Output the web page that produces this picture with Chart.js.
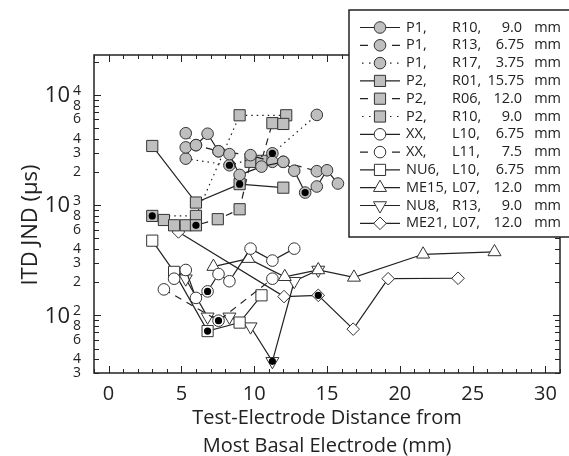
<!DOCTYPE html>
<html>
<head>
<meta charset="utf-8">
<script src="https://cdn.jsdelivr.net/npm/chart.js@4.4.0/dist/chart.umd.min.js"></script>
<style>
  html, body { margin: 0; padding: 0; background: #fff; }
  #wrap { width: 569px; height: 456px; }
</style>
</head>
<body>
<div id="wrap"><canvas id="ChartJnd"></canvas></div>
<script>
// legend columns
var subjects   = ["P1", "P1", "P1", "P2", "P2", "P2", "XX", "XX", "NU6", "ME15", "NU8", "ME21"];
var electrodes = ["R10", "R13", "R17", "R01", "R06", "R10", "L10", "L11", "L10", "L07", "R13", "L07"];
var distances  = ["9.0", "6.75", "3.75", "15.75", "12.0", "9.0", "6.75", "7.5", "6.75", "12.0", "9.0", "12.0"];

// x = test-electrode distance (mm), y = ITD JND (us)
var p1r10X = [5.3, 6.0, 6.8, 7.55, 8.3, 9.0, 10.5, 12.0, 12.75, 13.5, 14.3, 15.0, 15.75];
var p1r10Y = [3340, 3500, 4440, 3080, 2900, 1880, 2235, 2470, 2050, 1300, 1475, 2070, 1570];
var p1r13X = [5.3, 6.0, 7.55, 9.75, 11.25, 12.0, 14.3];
var p1r13Y = [4490, 3500, 3080, 2840, 2470, 2470, 2030];
var p1r17X = [5.3, 8.3, 11.25, 14.3];
var p1r17Y = [2640, 2300, 2950, 6580];
var p2r01X = [3.0, 6.0, 9.0, 12.0];
var p2r01Y = [3440, 1055, 1550, 1440];
var p2r06X = [3.8, 4.5, 5.3, 6.0, 7.5, 9.0, 9.75, 10.5, 11.25, 12.0];
var p2r06Y = [733, 656, 656, 656, 745, 917, 2470, 2520, 5540, 5450];
var p2r10X = [3.0, 6.0, 9.0, 12.2];
var p2r10Y = [798, 798, 6530, 6530];
var xxl10X = [4.5, 5.3, 6.0, 6.8, 7.55, 8.3, 9.75, 11.25, 12.75];
var xxl10Y = [215, 258, 144, 165, 237, 204, 403, 314, 403];
var xxl11X = [3.8, 7.55, 11.25];
var xxl11Y = [172, 89.5, 215];
var nu6X = [3.0, 4.5, 6.8, 9.0, 10.5];
var nu6Y = [476, 248, 72, 86, 152];
var me15X = [7.2, 9.6, 12.1, 14.4, 16.85, 21.6, 26.5];
var me15Y = [277, 327, 224, 258, 221, 358, 376];
var nu8X = [5.3, 6.8, 8.3, 9.75, 11.25, 12.75, 14.4];
var nu8Y = [215, 97, 97, 79, 38.3, 204, 258];
var me21X = [4.8, 12.05, 14.4, 16.8, 19.2, 24.0];
var me21Y = [571, 148, 152, 75, 215, 217];

// reference electrodes (black dots)
var refX = [8.3, 11.25, 13.5, 3.0, 6.0, 9.0, 6.8, 7.55, 6.8, 11.25, 14.4];
var refY = [2300, 2950, 1300, 798, 656, 1550, 165, 89.5, 72, 38.3, 152];

// axis ticks
var xTickLabels = [0, 5, 10, 15, 20, 25, 30];
var yDecades = [100, 1000, 10000];
var yMinorLabels = [30, 40, 60, 80, 200, 300, 400, 600, 800, 2000, 3000, 4000, 6000, 8000];

var GRAY = "#bfbfbf";
var INK = "#222";
var DASH = [7, 6];
var DOT = [1.5, 4];

var seriesX = [p1r10X, p1r13X, p1r17X, p2r01X, p2r06X, p2r10X, xxl10X, xxl11X, nu6X, me15X, nu8X, me21X];
var seriesY = [p1r10Y, p1r13Y, p1r17Y, p2r01Y, p2r06Y, p2r10Y, xxl10Y, xxl11Y, nu6Y, me15Y, nu8Y, me21Y];
var looks = [
    { pt: "circle", r: 5.8, rot: 0, fill: GRAY, dash: [] },
    { pt: "circle", r: 5.8, rot: 0, fill: GRAY, dash: DASH },
    { pt: "circle", r: 5.8, rot: 0, fill: GRAY, dash: DOT },
    { pt: "rect", r: 7.9, rot: 0, fill: GRAY, dash: [] },
    { pt: "rect", r: 7.9, rot: 0, fill: GRAY, dash: DASH },
    { pt: "rect", r: 7.9, rot: 0, fill: GRAY, dash: DOT },
    { pt: "circle", r: 5.8, rot: 0, fill: "#fff", dash: [] },
    { pt: "circle", r: 5.8, rot: 0, fill: "#fff", dash: DASH },
    { pt: "rect", r: 7.9, rot: 0, fill: "#fff", dash: [] },
    { pt: "triangle", r: 7.5, rot: 0, fill: "#fff", dash: [] },
    { pt: "triangle", r: 7.5, rot: 180, fill: "#fff", dash: [] },
    { pt: "rectRot", r: 6.3, rot: 0, fill: "#fff", dash: [] }
];

function pairs(xs, ys) {
    return xs.map(function (x, i) { return { x: x, y: ys[i] }; });
}

var datasets = [{
    label: "ref",
    data: pairs(refX, refY),
    showLine: false,
    pointStyle: "circle",
    pointRadius: 3.6,
    pointBackgroundColor: "#000",
    pointBorderColor: "#000",
    pointBorderWidth: 0,
    order: 0
}];

seriesX.forEach(function (xs, i) {
    var lk = looks[i];
    datasets.push({
        label: subjects[i] + ", " + electrodes[i] + ", " + distances[i] + " mm",
        data: pairs(xs, seriesY[i]),
        showLine: true,
        borderColor: INK,
        borderWidth: 1.2,
        borderDash: lk.dash,
        pointStyle: lk.pt,
        pointRotation: lk.rot,
        pointRadius: lk.r,
        pointBackgroundColor: lk.fill,
        pointBorderColor: "#333",
        pointBorderWidth: 1,
        order: 1
    });
});

// frame, inward ticks, y labels, y title and the boxed legend
var framePlugin = {
    id: "frame",
    afterDatasetsDraw: function (chart) {
        var ctx = chart.ctx, a = chart.chartArea;
        var xs = chart.scales.x, ys = chart.scales.y;
        ctx.save();
        ctx.setLineDash([]);
        ctx.strokeStyle = INK;
        ctx.lineWidth = 1.5;
        ctx.strokeRect(a.left, a.top, a.right - a.left, a.bottom - a.top);

        ctx.lineWidth = 1;
        ctx.beginPath();
        for (var v = Math.ceil(xs.min); v <= xs.max; v++) {
            var px = Math.round(xs.getPixelForValue(v)) + 0.5;
            var len = v % 5 === 0 ? 7 : 4;
            ctx.moveTo(px, a.bottom); ctx.lineTo(px, a.bottom - len);
            ctx.moveTo(px, a.top); ctx.lineTo(px, a.top + len);
        }
        for (var d = 10; d <= ys.max; d *= 10) {
            for (var m = 1; m <= 9; m++) {
                var val = d * m;
                if (val < ys.min || val > ys.max) continue;
                var py = Math.round(ys.getPixelForValue(val)) + 0.5;
                var ln = m === 1 ? 7 : 5;
                ctx.moveTo(a.left, py); ctx.lineTo(a.left + ln, py);
                ctx.moveTo(a.right, py); ctx.lineTo(a.right - ln, py);
            }
        }
        ctx.stroke();

        // y tick labels
        ctx.fillStyle = INK;
        ctx.textBaseline = "middle";
        yDecades.forEach(function (dv) {
            var py = ys.getPixelForValue(dv);
            ctx.font = "22px 'Open Sans'";
            ctx.textAlign = "right";
            ctx.fillText("10", 70, py + 1);
            ctx.font = "14px 'Open Sans'";
            ctx.fillText(String(Math.round(Math.log10(dv))), 81, py - 4);
        });
        ctx.font = "14px 'Open Sans'";
        ctx.textAlign = "right";
        yMinorLabels.forEach(function (mv) {
            var py = ys.getPixelForValue(mv);
            ctx.fillText(String(mv).charAt(0), 81, py);
        });

        // y title
        ctx.save();
        ctx.translate(31, 225);
        ctx.rotate(-Math.PI / 2);
        ctx.textAlign = "center";
        ctx.font = "22px 'Open Sans'";
        ctx.fillText("ITD JND (\u03bcs)", 0, 0);
        ctx.restore();

        // legend box
        ctx.fillStyle = "#fff";
        ctx.fillRect(349, 10, 230, 227);
        ctx.lineWidth = 1.5;
        ctx.strokeStyle = INK;
        ctx.strokeRect(349, 10, 230, 227);

        for (var i = 0; i < subjects.length; i++) {
            var lk = looks[i];
            var y = 27.5 + i * 17.8;
            ctx.strokeStyle = INK;
            ctx.lineWidth = 1.2;
            ctx.beginPath();
            if (lk.dash === DASH) {
                ctx.setLineDash([]);
                ctx.moveTo(360, y); ctx.lineTo(368, y);
                ctx.moveTo(392, y); ctx.lineTo(400, y);
            } else if (lk.dash === DOT) {
                ctx.setLineDash([1.5, 5.5]);
                ctx.moveTo(362, y); ctx.lineTo(400, y);
            } else {
                ctx.setLineDash([]);
                ctx.moveTo(360, y); ctx.lineTo(400, y);
            }
            ctx.stroke();
            ctx.setLineDash([]);
            ctx.fillStyle = lk.fill;
            ctx.strokeStyle = "#333";
            ctx.lineWidth = 1;
            Chart.helpers.drawPoint(ctx, { pointStyle: lk.pt, rotation: lk.rot, radius: lk.r, borderWidth: 1 }, 380, y);

            ctx.fillStyle = INK;
            ctx.font = "14.5px 'Open Sans'";
            ctx.textAlign = "left";
            ctx.fillText(subjects[i] + ",", 406, y);
            ctx.fillText(electrodes[i] + ",", 452, y);
            var parts = distances[i].split(".");
            var dp = parts[1].length === 2 ? 504 : 510;
            ctx.textAlign = "right";
            ctx.fillText(parts[0], dp, y);
            ctx.textAlign = "left";
            ctx.fillText("." + parts[1], dp, y);
            ctx.textAlign = "right";
            ctx.fillText("mm", 561, y);
        }
        ctx.restore();
    }
};

Chart.defaults.font.family = "'Open Sans', sans-serif";
Chart.defaults.color = INK;

var JndCanvas = document.getElementById("ChartJnd");
var jndChart = new Chart(JndCanvas, {
    type: "line",
    data: { datasets: datasets },
    options: {
        animation: false,
        responsive: true,
        maintainAspectRatio: false,
        layout: { padding: { top: 55, right: 4, left: 0, bottom: 0 } },
        plugins: { legend: { display: false }, tooltip: { enabled: false } },
        scales: {
            x: {
                type: "linear",
                min: -1,
                max: 31,
                grid: { display: false, drawTicks: false },
                border: { display: false },
                ticks: {
                    stepSize: 1,
                    autoSkip: false,
                    maxRotation: 0,
                    padding: 9,
                    font: { size: 20 },
                    callback: function (v) { return xTickLabels.indexOf(v) >= 0 ? String(v) : ""; }
                },
                title: {
                    display: true,
                    text: ["Test-Electrode Distance from", "Most Basal Electrode (mm)"],
                    font: { size: 20, lineHeight: 1.4 },
                    padding: { top: 0, bottom: -4 }
                },
                afterFit: function (s) { s.height = 83; }
            },
            y: {
                type: "logarithmic",
                min: 30,
                max: 23000,
                grid: { display: false, drawTicks: false },
                border: { display: false },
                ticks: { display: false },
                afterFit: function (s) { s.width = 94; }
            }
        }
    },
    plugins: [framePlugin]
});
</script>
</body>
</html>
